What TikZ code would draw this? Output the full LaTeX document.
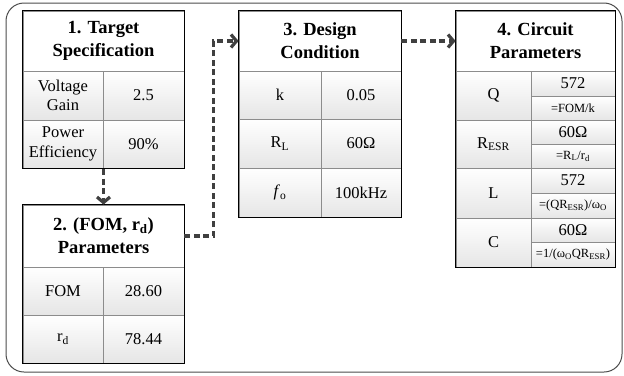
\documentclass[tikz,border=0pt]{standalone}
\usepackage{fontspec}
\setmainfont{Liberation Serif}
\usetikzlibrary{arrows.meta,fit}
\begin{document}
\begin{tikzpicture}[x=1pt,y=-1pt,
  cellbase/.style={draw=black!45, line width=0.8pt, inner sep=0pt, align=center,
    top color=white, bottom color=black!10},
  cell/.style={cellbase, font=\fontsize{16.5}{19.5}\selectfont},
  small/.style={cellbase, font=\fontsize{12.5}{14}\selectfont},
  head/.style={draw=black!45, line width=0.8pt, fill=white, inner sep=0pt, align=center,
    font=\fontsize{18.5}{23}\selectfont\bfseries},
  frame/.style={draw=black, line width=1.3pt, inner sep=0pt},
  flow/.style={draw=black!75, line width=3.2pt, dash pattern=on 6pt off 3.5pt,
    -{Straight Barb[length=5.5pt,width=13pt]}}
]
\useasboundingbox (0,0) rectangle (624,375);
\draw[rounded corners=18pt, draw=black!70, line width=1pt] (6,3) rectangle (622,372);

% Box 1
\node[head, minimum width=161, minimum height=60] (b1h) at (103.5,41) {1. Target\\Specification};
\node[cell, minimum width=80, minimum height=49] (b1a1) at (63,95.5) {Voltage\\Gain};
\node[cell, minimum width=81, minimum height=49] (b1b1) at (143.5,95.5) {2.5};
\node[cell, minimum width=80, minimum height=48] (b1a2) at (63,144) {Power\\Efficiency};
\node[cell, minimum width=81, minimum height=48] (b1b2) at (143.5,144) {90\%};
\node[frame, fit=(b1h)(b1a2)(b1b2)] (box1) {};

% Box 2
\node[head, minimum width=161, minimum height=62] (b2h) at (103.5,236) {2. (FOM, r\textsubscript{d})\\Parameters};
\node[cell, minimum width=80, minimum height=48] (b2a1) at (63,291) {FOM};
\node[cell, minimum width=81, minimum height=48] (b2b1) at (143.5,291) {28.60};
\node[cell, minimum width=80, minimum height=48] (b2a2) at (63,339) {r\textsubscript{d}};
\node[cell, minimum width=81, minimum height=48] (b2b2) at (143.5,339) {78.44};
\node[frame, fit=(b2h)(b2a2)(b2b2)] (box2) {};

% Box 3
\node[head, minimum width=162, minimum height=60] (b3h) at (320,41) {3. Design\\Condition};
\node[cell, minimum width=82, minimum height=48] (b3a1) at (280,95) {k};
\node[cell, minimum width=80, minimum height=48] (b3b1) at (361,95) {0.05};
\node[cell, minimum width=82, minimum height=49] (b3a2) at (280,143.5) {R\textsubscript{L}};
\node[cell, minimum width=80, minimum height=49] (b3b2) at (361,143.5) {60Ω};
\node[cell, minimum width=82, minimum height=49] (b3a3) at (280,192.5) {\textit{f}\textsubscript{o}};
\node[cell, minimum width=80, minimum height=49] (b3b3) at (361,192.5) {100kHz};
\node[frame, fit=(b3h)(b3a3)(b3b3)] (box3) {};

% Box 4
\node[head, minimum width=159, minimum height=60] (b4h) at (535.5,41) {4. Circuit\\Parameters};
\node[cell, minimum width=75, minimum height=49] (b4q) at (493.5,95.5) {Q};
\node[cell, minimum width=84, minimum height=25] (b4qv) at (573,83.5) {572};
\node[small, minimum width=84, minimum height=24] (b4qf) at (573,108) {=FOM/k};
\node[cell, minimum width=75, minimum height=48] (b4r) at (493.5,144) {R\textsubscript{ESR}};
\node[cell, minimum width=84, minimum height=24] (b4rv) at (573,132) {60Ω};
\node[small, minimum width=84, minimum height=24] (b4rf) at (573,156) {=R\textsubscript{L}/r\textsubscript{d}};
\node[cell, minimum width=75, minimum height=50] (b4l) at (493.5,193) {L};
\node[cell, minimum width=84, minimum height=25] (b4lv) at (573,180.5) {572};
\node[small, minimum width=84, minimum height=25] (b4lf) at (573,205.5) {=(QR\textsubscript{ESR})/ω\textsubscript{O}};
\node[cell, minimum width=75, minimum height=49] (b4c) at (493.5,242.5) {C};
\node[cell, minimum width=84, minimum height=24] (b4cv) at (573,230) {60Ω};
\node[small, minimum width=84, minimum height=25] (b4cf) at (573,254.5) {=1/(ω\textsubscript{O}QR\textsubscript{ESR})};
\node[frame, fit=(b4h)(b4c)(b4cf)] (box4) {};

% Connectors
\draw[flow] (box1.south) -- (b2h.north);
\draw[flow] (b2h.east) -- ++(29,0) |- (b3h.west);
\draw[flow] (b3h.east) -- (b4h.west);
\end{tikzpicture}
\end{document}
